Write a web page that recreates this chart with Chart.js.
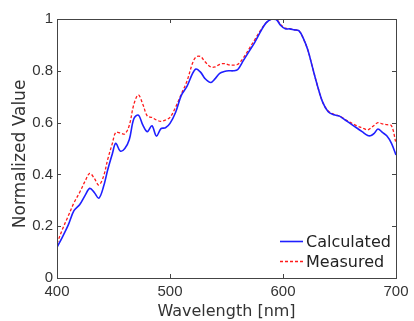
<!DOCTYPE html>
<html><head><meta charset="utf-8">
<script src="https://cdn.jsdelivr.net/npm/chart.js@4/dist/chart.umd.min.js"></script>
<style>html,body{margin:0;padding:0;background:#fff}#wrap{width:414px;height:321px}</style>
</head><body><div id="wrap"><canvas id="c" width="414" height="321"></canvas></div>
<script>
const wavelengths = [400,405,410,415,420,425,429,433,437,441,445,449,452,456,460,464,468,472,476,480,484,488,492,496,500,505,510,515,520,523,527,531,536,540,544,548,552,556,560,565,570,575,580,585,590,594,598,602,606,610,614,618,622,626,630,635,640,645,650,655,660,665,670,675,678,681,684,688,692,696,700];
const calculated = [0.118,0.16,0.205,0.26,0.283,0.32,0.346,0.33,0.308,0.35,0.42,0.48,0.52,0.49,0.50,0.535,0.615,0.629,0.59,0.565,0.588,0.548,0.577,0.58,0.597,0.64,0.705,0.74,0.79,0.807,0.795,0.77,0.755,0.77,0.79,0.797,0.8,0.8,0.805,0.84,0.875,0.91,0.95,0.985,1.0,0.998,0.975,0.962,0.962,0.958,0.955,0.925,0.88,0.815,0.75,0.68,0.642,0.63,0.625,0.61,0.595,0.58,0.565,0.55,0.55,0.56,0.575,0.562,0.548,0.52,0.475];
const measured = [0.133,0.19,0.24,0.29,0.33,0.375,0.404,0.385,0.359,0.39,0.46,0.52,0.562,0.56,0.556,0.59,0.67,0.707,0.67,0.625,0.62,0.61,0.605,0.61,0.62,0.66,0.71,0.76,0.83,0.853,0.855,0.835,0.815,0.815,0.825,0.828,0.823,0.822,0.825,0.85,0.885,0.92,0.955,0.985,1.0,1.0,0.978,0.965,0.962,0.958,0.955,0.925,0.88,0.815,0.75,0.68,0.645,0.632,0.625,0.612,0.6,0.588,0.58,0.572,0.58,0.59,0.6,0.595,0.592,0.588,0.52];
const xTicks = [400,500,600,700];
const yTicks = [0,0.2,0.4,0.6,0.8,1];
const seriesNames = ['Calculated','Measured'];

const toPts = arr => wavelengths.map((w,i)=>({x:w,y:arr[i]}));
const FONT = '"Liberation Sans", Arial, sans-serif';
const TFONT = '"DejaVu Sans", sans-serif';
const TXT = '#333';

const framePlugin = {
  id:'frame',
  afterDatasetsDraw(chart){
    const {ctx, chartArea:a, scales:{x,y}} = chart;
    ctx.save();
    ctx.strokeStyle = '#444'; ctx.lineWidth = 1;
    ctx.beginPath();
    xTicks.forEach(v=>{const px=Math.round(x.getPixelForValue(v))+0.5;
      ctx.moveTo(px,a.bottom); ctx.lineTo(px,a.bottom-4);
      ctx.moveTo(px,a.top); ctx.lineTo(px,a.top+4);});
    yTicks.forEach(v=>{const py=Math.round(y.getPixelForValue(v))+0.5;
      ctx.moveTo(a.left,py); ctx.lineTo(a.left+4,py);
      ctx.moveTo(a.right,py); ctx.lineTo(a.right-4,py);});
    ctx.stroke();
    ctx.strokeRect(Math.round(a.left)+0.5, Math.round(a.top)+0.5, Math.round(a.right-a.left), Math.round(a.bottom-a.top));
    // legend
    const ds = chart.data.datasets;
    const lx = 280, rows=[241.5,261.5];
    ds.forEach((d,i)=>{
      ctx.strokeStyle = d.borderColor; ctx.lineWidth = d.borderWidth;
      ctx.setLineDash(d.borderDash||[]);
      ctx.beginPath(); ctx.moveTo(lx,rows[i]); ctx.lineTo(lx+23,rows[i]); ctx.stroke();
      ctx.setLineDash([]);
      ctx.fillStyle = '#222'; ctx.font = '16px '+TFONT; ctx.textBaseline='middle'; ctx.textAlign='left';
      ctx.fillText(d.label, lx+26, rows[i]+1);
    });
    ctx.restore();
  }
};

new Chart(document.getElementById('c'),{
  type:'line',
  data:{datasets:[
    {label:seriesNames[0], data:toPts(calculated), borderColor:'#1f1fff', borderWidth:1.6, pointRadius:0, tension:0.35, fill:false},
    {label:seriesNames[1], data:toPts(measured), borderColor:'#ff1a1a', borderWidth:1.3, borderDash:[3,2], pointRadius:0, tension:0.35, fill:false}
  ]},
  options:{
    responsive:false, animation:false, devicePixelRatio:1,
    layout:{padding:{left:0,right:18,top:19,bottom:0}},
    plugins:{legend:{display:false}, tooltip:{enabled:false}},
    scales:{
      x:{type:'linear', min:400, max:700,
        afterBuildTicks(s){ s.ticks = xTicks.map(v=>({value:v})); },
        afterFit(s){ s.height = 43; },
        grid:{display:false, drawTicks:false}, border:{display:false},
        ticks:{font:{family:FONT,size:15}, color:TXT, padding:5, maxRotation:0},
        title:{display:true, text:'Wavelength [nm]', font:{family:TFONT,size:16}, color:TXT, padding:{top:0,bottom:0}}
      },
      y:{min:0, max:1,
        afterBuildTicks(s){ s.ticks = yTicks.map(v=>({value:v})); },
        afterFit(s){ s.width = 57; },
        grid:{display:false, drawTicks:false}, border:{display:false},
        ticks:{font:{family:FONT,size:15}, color:TXT, padding:4, callback:v=>String(v)},
        title:{display:true, text:'Normalized Value  ', font:{family:TFONT,size:17}, color:TXT, padding:{top:10,bottom:0}}
      }
    }
  },
  plugins:[framePlugin]
});
</script></body></html>
